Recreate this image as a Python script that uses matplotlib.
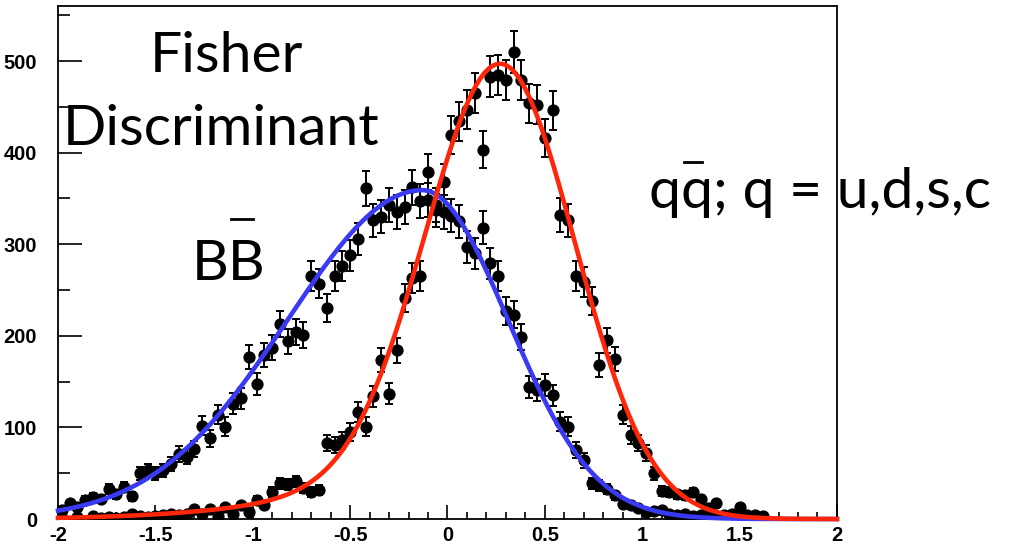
import numpy as np
import matplotlib
matplotlib.use("Agg")
import matplotlib.pyplot as plt
from matplotlib.lines import Line2D
from matplotlib.ticker import FixedLocator, FixedFormatter, MultipleLocator

# histogram binning: 100 bins between -2 and 2
BIN_EDGES = np.linspace(-2.0, 2.0, 101)

# B Bbar events per bin (left to right)
bb_counts = [
    10, 17, 13, 21, 24, 22, 33, 27, 35, 25,
    50, 53, 50, 53, 60, 71, 68, 76, 102, 88,
    114, 101, 126, 132, 177, 147, 179, 187, 213, 194,
    204, 201, 265, 257, 230, 265, 276, 288, 306, 361,
    326, 330, 343, 335, 341, 362, 347, 379, 337, 335,
    331, 325, 297, 290, 318, 279, 265, 227, 223, 199,
    144, 141, 146, 135, 106, 101, 75, 64, 39, 37,
    33, 26, 16, 15, 12, 8, 9, 10, 6, 4,
    5, 3, 4, 2, 3, 1, 2, 1, 0, 0,
    0, 0, 0, 0, 0, 0, 0, 0, 0, 0,
]

# q qbar (u,d,s,c) events per bin
qq_counts = [
    1, 0, 2, 0, 3, 1, 2, 1, 2, 6,
    3, 2, 3, 4, 5, 4, 6, 11, 6, 11,
    3, 13, 6, 15, 8, 21, 15, 30, 39, 38,
    41, 34, 30, 32, 83, 81, 86, 95, 117, 101,
    134, 174, 137, 184, 241, 263, 265, 348, 343, 368,
    419, 434, 447, 465, 403, 483, 485, 479, 510, 479,
    454, 452, 416, 446, 332, 326, 265, 259, 238, 168,
    195, 175, 114, 92, 83, 72, 50, 31, 30, 27,
    26, 29, 22, 12, 17, 4, 6, 13, 4, 4,
    3, 0, 0, 0, 0, 0, 0, 0, 0, 0,
]

# fit results (asymmetric gaussians)
bb_fit = {"amp": 359.0, "mean": -0.13, "sig_left": 0.69, "sig_right": 0.44}
qq_fit = {"amp": 497.0, "mean": 0.27, "sig_left": 0.38, "sig_right": 0.385,
          "tail_frac": 0.09, "tail_sig": 0.85}

x_ticks = [-2, -1.5, -1, -0.5, 0, 0.5, 1, 1.5, 2]
x_tick_labels = ["-2", "-1.5", "-1", "-0.5", "0", "0.5", "1", "1.5", "2"]
y_ticks = [0, 100, 200, 300, 400, 500]
y_tick_labels = ["0", "100", "200", "300", "400", "500"]

BLUE = "#3a3af4"
RED = "#ff260a"


def fit_curve(x, p):
    d = x - p["mean"]
    sig = np.where(d < 0, p["sig_left"], p["sig_right"])
    core = np.exp(-0.5 * (d / sig) ** 2)
    frac = p.get("tail_frac", 0.0)
    if frac:
        tail = np.where(d < 0, np.exp(-0.5 * (d / p["tail_sig"]) ** 2), 0.0)
        core = np.where(d < 0, (1 - frac) * core + frac * tail, core)
    return p["amp"] * core


def draw_points(ax, counts):
    centers = 0.5 * (BIN_EDGES[:-1] + BIN_EDGES[1:])
    counts = np.asarray(counts, dtype=float)
    keep = counts > 0
    ax.errorbar(centers[keep], counts[keep], yerr=np.sqrt(counts[keep]),
                fmt="o", color="black", markersize=7.8, elinewidth=1.4,
                capsize=2.6, capthick=1.4, zorder=3)


fig = plt.figure(figsize=(10.09, 5.49), dpi=100)
ax = fig.add_axes([0.0575, 0.0546, 0.772, 0.9344])

draw_points(ax, bb_counts)
draw_points(ax, qq_counts)

xs = np.linspace(-2, 2, 801)
ax.plot(xs, fit_curve(xs, bb_fit), color=BLUE, lw=3.3, zorder=4, clip_on=False)
ax.plot(xs, fit_curve(xs, qq_fit), color=RED, lw=3.3, zorder=5, clip_on=False)

ax.set_xlim(-2, 2)
ax.set_ylim(0, 560)

ax.xaxis.set_major_locator(FixedLocator(x_ticks))
ax.xaxis.set_major_formatter(FixedFormatter(x_tick_labels))
ax.xaxis.set_minor_locator(MultipleLocator(0.1))
ax.yaxis.set_major_locator(FixedLocator(y_ticks))
ax.yaxis.set_major_formatter(FixedFormatter(y_tick_labels))
ax.yaxis.set_minor_locator(MultipleLocator(50))

ax.tick_params(axis="x", which="major", direction="in", length=10, width=1.2, pad=5)
ax.tick_params(axis="x", which="minor", direction="in", length=5, width=1.2)
ax.tick_params(axis="y", which="major", direction="in", length=17, width=1.2, pad=15)
ax.tick_params(axis="y", which="minor", direction="in", length=8.5, width=1.2)
for lab in ax.get_xticklabels() + ax.get_yticklabels():
    lab.set_fontfamily("Liberation Sans")
    lab.set_fontweight("bold")
    lab.set_fontsize(14.5)
for sp in ax.spines.values():
    sp.set_linewidth(1.3)

# slide annotations
txt = dict(family="Lato", fontsize=41, color="black", ha="left", va="baseline")
fig.text(0.1487, 1 - 71.7 / 549, "Fisher", **txt)
fig.text(0.0617, 1 - 145 / 549, "Discriminant", **txt)
fig.text(0.1900, 1 - 280 / 549, "BB", **txt)
fig.text(0.6432, 1 - 208 / 549, "qq; q = u,d,s,c", **txt)

# overbars (B-bar and q-bar)
fig.add_artist(Line2D([231 / 1009, 253 / 1009], [1 - 218.5 / 549] * 2,
                      transform=fig.transFigure, color="black", lw=2))
fig.add_artist(Line2D([684 / 1009, 702 / 1009], [1 - 162 / 549] * 2,
                      transform=fig.transFigure, color="black", lw=2))

fig.savefig("out.png", dpi=100)
